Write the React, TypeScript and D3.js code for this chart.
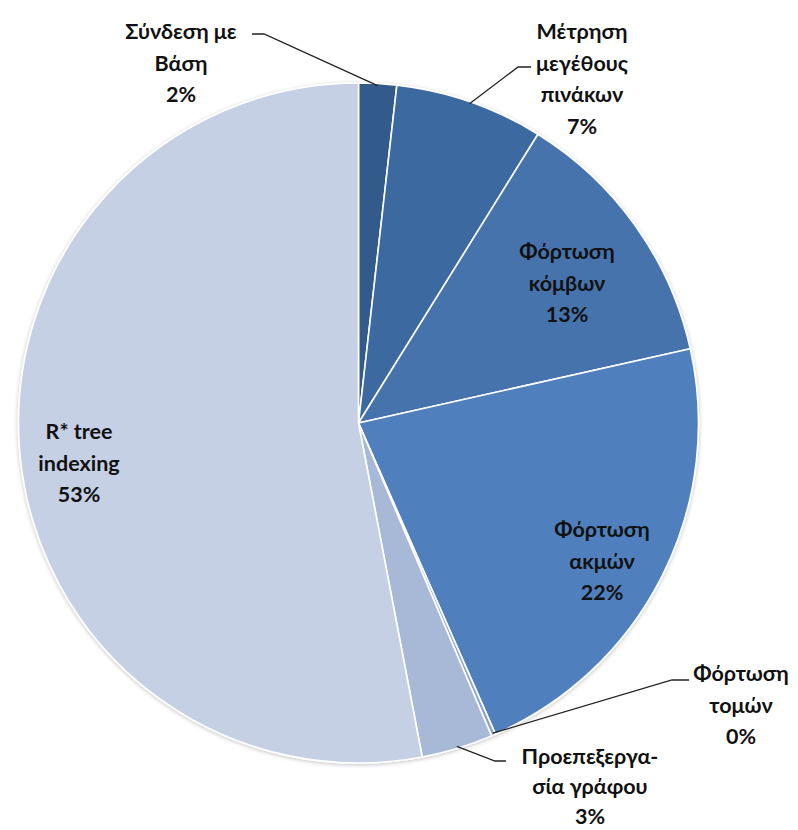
import React from "react";
import * as d3 from "d3";

const categories = [
  "Σύνδεση με Βάση",
  "Μέτρηση μεγέθους πινάκων",
  "Φόρτωση κόμβων",
  "Φόρτωση ακμών",
  "Φόρτωση τομών",
  "Προεπεξεργασία γράφου",
  "R* tree indexing",
];
const values = [1.8, 7.05, 12.65, 21.9, 0.2, 3.4, 53.0];
const colors = ["#335a8b", "#3e69a1", "#4673ad", "#4f80bd", "#8ea6cf", "#a8b9d8", "#c5d0e4"];
const labelLines = [
  ["Σύνδεση με", "Βάση"],
  ["Μέτρηση", "μεγέθους", "πινάκων"],
  ["Φόρτωση", "κόμβων"],
  ["Φόρτωση", "ακμών"],
  ["Φόρτωση", "τομών"],
  ["Προεπεξεργα-", "σία γράφου"],
  ["R* tree", "indexing"],
];
// label layout: center x, first line y, line height
const labelPos: [number, number, number][] = [
  [181, 31, 31.5],
  [582, 31, 31.5],
  [567, 251, 31.5],
  [602, 529, 31.5],
  [741, 673, 31.5],
  [590, 756, 30],
  [79, 431, 31.5],
];
// leader lines: [text-side x, y, horizontal end x]
const leaders: ([number, number, number] | null)[] = [
  [252, 34, 264],
  [531, 67, 518],
  null,
  null,
  [689, 680, 672],
  [506, 761, 495],
  null,
];

export default function App() {
  const W = 798, H = 830;
  const cx = 358.5, cy = 423, r = 340;
  const pie = d3.pie<number>().sort(null).value((d) => d);
  const arcs = pie(values);
  const arc = d3.arc<d3.PieArcDatum<number>>().innerRadius(0).outerRadius(r);
  const total = d3.sum(values);
  return (
    <svg width={W} height={H} style={{ position: "absolute", left: 0, top: 0 }}
      fontFamily="Lato, 'Open Sans', sans-serif">
      <defs>
        <filter id="sh" x="-10%" y="-10%" width="120%" height="120%">
          <feGaussianBlur in="SourceAlpha" stdDeviation="2" />
          <feOffset dx="0" dy="1" />
          <feComponentTransfer><feFuncA type="linear" slope="0.25" /></feComponentTransfer>
          <feMerge><feMergeNode /><feMergeNode in="SourceGraphic" /></feMerge>
        </filter>
      </defs>
      <g transform={`translate(${cx},${cy})`} filter="url(#sh)">
        {arcs.map((a, i) => (
          <path key={i} d={arc(a) || ""} fill={colors[i]} stroke="#ffffff" strokeWidth={1.6} strokeLinejoin="round" />
        ))}
      </g>
      {arcs.map((a, i) => {
        const ld = leaders[i];
        if (!ld) return null;
        const mid = (a.startAngle + a.endAngle) / 2;
        const ex = cx + Math.sin(mid) * (r - 2);
        const ey = cy - Math.cos(mid) * (r - 2);
        return (
          <polyline key={"l" + i} points={`${ld[0]},${ld[1]} ${ld[2]},${ld[1]} ${ex},${ey}`}
            fill="none" stroke="#222" strokeWidth={1.3} />
        );
      })}
      {labelLines.map((lines, i) => {
        const [x, y, lh] = labelPos[i];
        const all = [...lines, `${Math.round((values[i] / total) * 100)}%`];
        return (
          <text key={"t" + i} x={x} textAnchor="middle" fontWeight="bold" fontSize={21.5} fill="#111">
            {all.map((s, j) => (
              <tspan key={j} x={x} y={y + j * lh} dominantBaseline="central">{s}</tspan>
            ))}
          </text>
        );
      })}
    </svg>
  );
}
